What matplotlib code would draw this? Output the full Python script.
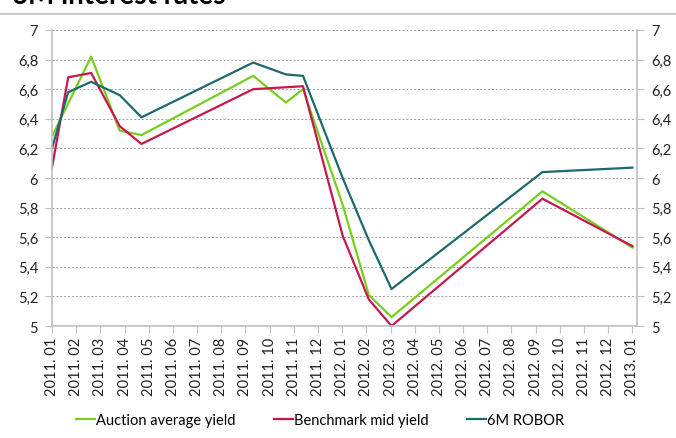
import numpy as np
import matplotlib
matplotlib.use('Agg')
from matplotlib import pyplot as plt

# x positions in months since 2011.01 (points are not exactly monthly)
auction_x = [0, 1.62, 2.8, 3.7, 8.32, 9.67, 10.38, 12.02, 13.1, 14.04, 20.28, 24.0]
auction_y = [6.28, 6.82, 6.32, 6.29, 6.69, 6.51, 6.60, 5.82, 5.21, 5.06, 5.91, 5.53]

bench_x = [0, 0.67, 1.62, 2.8, 3.7, 8.32, 10.38, 12.02, 13.1, 14.04, 20.28, 24.0]
bench_y = [6.07, 6.68, 6.71, 6.35, 6.23, 6.60, 6.62, 5.61, 5.18, 5.00, 5.86, 5.54]

robor_x = [0, 0.67, 1.62, 2.8, 3.7, 8.32, 9.67, 10.38, 12.02, 13.1, 14.04, 20.28, 24.0]
robor_y = [6.20, 6.58, 6.65, 6.56, 6.41, 6.78, 6.70, 6.69, 6.00, 5.58, 5.25, 6.04, 6.07]

months = ['2011. %02d' % m for m in range(1, 13)] + \
         ['2012. %02d' % m for m in range(1, 13)] + ['2013. 01']
yticks = [5, 5.2, 5.4, 5.6, 5.8, 6, 6.2, 6.4, 6.6, 6.8, 7]
ylabels = ['5', '5,2', '5,4', '5,6', '5,8', '6', '6,2', '6,4', '6,6', '6,8', '7']

plt.rcParams['font.family'] = ['Lato', 'DejaVu Sans']

fig = plt.figure(figsize=(6.76, 4.39), dpi=100)
ax = fig.add_axes([0.0769, 0.2551, 0.8654, 0.6743])

ax.plot(auction_x, auction_y, color='#77cf1c', lw=1.6, label='Auction average yield')
ax.plot(bench_x, bench_y, color='#c9174d', lw=1.6, label='Benchmark mid yield')
ax.plot(robor_x, robor_y, color='#1d6a6a', lw=1.6, label='6M ROBOR')

ax.set_xlim(0, 24.19)
ax.set_ylim(5, 7)
ax.set_yticks(yticks)
ax.set_yticklabels(ylabels)
ax.set_xticks(range(25))
ax.set_xticklabels(months, rotation=90)
ax.grid(axis='y', color='#a0a0a0', linestyle=(0, (2, 2)), lw=0.7)
ax.set_axisbelow(True)

for s in ['left', 'right', 'bottom']:
    ax.spines[s].set_color('#bfbfbf')
    ax.spines[s].set_linewidth(1.2)
ax.spines['top'].set_visible(False)
ax.tick_params(axis='y', right=True, labelright=True, length=5, color='#bfbfbf',
               labelsize=10.5, labelcolor='#222222', pad=5)
ax.tick_params(axis='x', length=5, color='#bfbfbf', labelsize=10.5,
               labelcolor='#222222', pad=3)

fig.legend(loc='center', bbox_to_anchor=(320 / 676, 1 - 421 / 439), ncol=3, frameon=False,
           handlelength=1.3, handletextpad=0.1, columnspacing=2.6, fontsize=10.5)

fig.text(12 / 676, 1 - 4 / 439, '6M interest rates', fontsize=20, fontweight='bold',
         ha='left', va='baseline')
fig.add_artist(plt.Line2D([0, 1], [1 - 15 / 439, 1 - 15 / 439], color='#c0c0c0',
                          lw=1.2, transform=fig.transFigure))

fig.savefig('out.png', dpi=100)
